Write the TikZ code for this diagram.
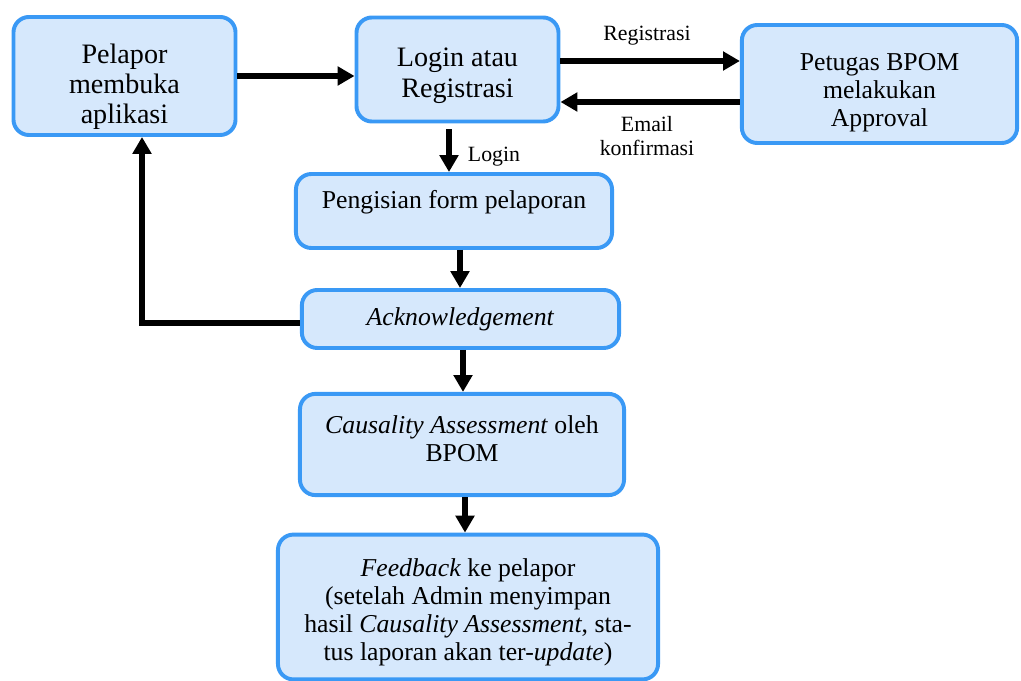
\documentclass[tikz,border=0pt]{standalone}
\usepackage{fontspec}
\setmainfont{Liberation Serif}
\usetikzlibrary{arrows.meta}
\definecolor{boxline}{RGB}{58,153,245}
\definecolor{boxfill}{RGB}{214,232,252}
\begin{document}
\begin{tikzpicture}[x=0.025cm, y=-0.025cm,
		b/.style = {rectangle, draw=boxline, fill=boxfill, line width=2.8pt, rounded corners=11pt, align=center, inner sep=0pt},
		big/.style = {font=\fontsize{20}{21.5}\selectfont},
		mid/.style = {font=\fontsize{18.3}{20}\selectfont},
		t/.style = {font=\fontsize{15.5}{17}\selectfont, align=center},
		r/.style = {-{Triangle[length=12pt, width=13pt]}, line width=4pt},
		]
		\useasboundingbox (0,0) rectangle (1021,681);
		
		% === === Nodes === ===
		\node[b, big, minimum width=5.55cm,	minimum height=2.95cm]	(pelapor)	at (124.5, 76)	{\rule{0pt}{29pt}Pelapor\\membuka\\aplikasi};
		\node[b, big, minimum width=5.05cm,	minimum height=2.6cm]	(login)		at (457.5, 69.5)	{\rule{0pt}{22pt}Login atau\\Registrasi};
		\node[b, mid, minimum width=6.88cm,	minimum height=2.95cm]	(petugas)	at (879.5, 84)	{\rule{0pt}{24pt}Petugas BPOM\\melakukan\\Approval};
		\node[b, mid, minimum width=7.9cm,	minimum height=1.85cm]	(form)		at (454, 211)		{Pengisian form pelaporan\rule[-16pt]{0pt}{16pt}};
		\node[b, mid, minimum width=7.93cm,	minimum height=1.45cm]	(ack)		at (460.5, 319)	{\textit{Acknowledgement}};
		\node[b, mid, minimum width=8.1cm,	minimum height=2.53cm]	(causal)	at (462, 444.5)	{\textit{Causality Assessment} oleh\\BPOM\rule[-8pt]{0pt}{8pt}};
		\node[b, mid, minimum width=9.5cm,	minimum height=3.62cm]	(feedback)	at (468, 607)		{\rule{0pt}{20pt}\textit{Feedback} ke pelapor\\(setelah Admin menyimpan\\hasil \textit{Causality Assessment}, sta-\\tus laporan akan ter-\textit{update})};
		
		\coordinate (loopx)	at (142, 0);
		\coordinate (regy)	at (0, 61);
		\coordinate (emaily)	at (0, 102);
		\coordinate (loginx)	at (449, 0);
		\coordinate (ackx)	at (460, 0);
		\coordinate (causx)	at (463, 0);
		\coordinate (feedx)	at (465, 0);
		
		% === === Labels === ===
		\node[t]	(lreg)		at (647, 36)		{Registrasi};
		\node[t]	(lemail)	at (647, 136)		{Email\\konfirmasi};
		\node[t]	(llogin)	at (494, 157)		{Login};
		
		% === === Arrows === ===
		\draw[r]	(pelapor.east)				--	(pelapor.east -| login.west);
		\draw[r]	(login.east |- regy)		--	(petugas.west |- regy);
		\draw[r]	(petugas.west |- emaily)	--	(login.east |- emaily);
		\draw[r]	([yshift=-4pt]login.south -| loginx)	--	(form.north -| loginx);
		\draw[r]	(form.south -| ackx)		--	(ack.north -| ackx);
		\draw[r]	(ack.south -| causx)		--	(causal.north -| causx);
		\draw[r]	(causal.south -| feedx)	--	(feedback.north -| feedx);
		\draw[r]	([yshift=-3pt]ack.west)	-|	(pelapor.south -| loopx);
		
\end{tikzpicture}
\end{document}
